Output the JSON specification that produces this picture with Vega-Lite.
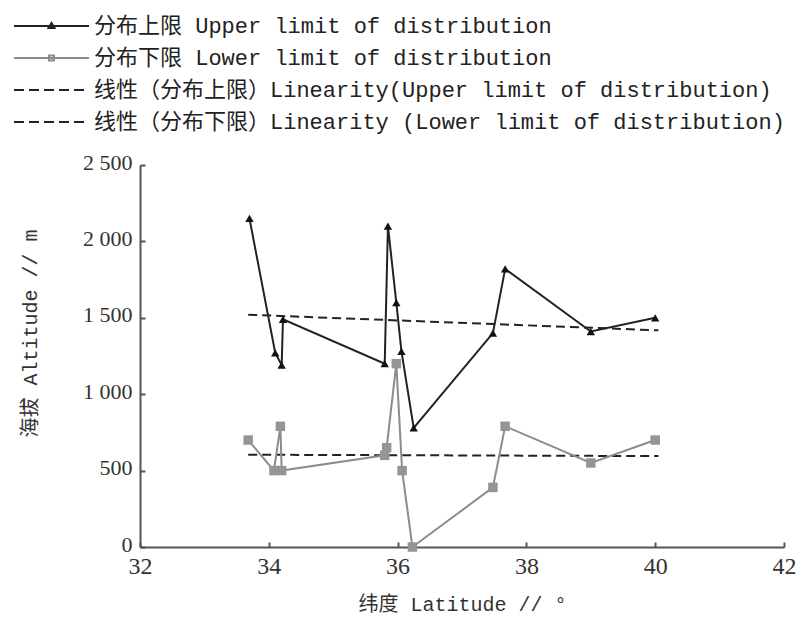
{
  "$schema": "https://vega.github.io/schema/vega-lite/v6.json",
  "width": 644,
  "height": 382,
  "autosize": {"type": "none"},
  "padding": {"left": 140, "top": 165, "right": 19, "bottom": 82},
  "background": "white",
  "config": {
    "view": {"stroke": null},
    "axis": {
      "grid": false,
      "labelFlush": false,
      "labelOverlap": false,
      "domainColor": "#555555",
      "domainWidth": 2,
      "tickColor": "#555555",
      "tickWidth": 2,
      "tickSize": -5,
      "labelFont": "Liberation Serif",
      "labelColor": "#333333",
      "titleFont": "Liberation Mono, Noto Sans CJK SC",
      "titleFontWeight": "normal",
      "titleColor": "#333333",
      "titleFontSize": 20
    }
  },
  "datasets": {
    "obs": [
      {"series": "分布上限 Upper limit of distribution", "i": 1, "lat": 33.7, "alt": 2150},
      {"series": "分布上限 Upper limit of distribution", "i": 2, "lat": 34.1, "alt": 1270},
      {"series": "分布上限 Upper limit of distribution", "i": 3, "lat": 34.2, "alt": 1190},
      {"series": "分布上限 Upper limit of distribution", "i": 4, "lat": 34.22, "alt": 1490},
      {"series": "分布上限 Upper limit of distribution", "i": 5, "lat": 35.8, "alt": 1200},
      {"series": "分布上限 Upper limit of distribution", "i": 6, "lat": 35.85, "alt": 2100},
      {"series": "分布上限 Upper limit of distribution", "i": 7, "lat": 35.98, "alt": 1600},
      {"series": "分布上限 Upper limit of distribution", "i": 8, "lat": 36.06, "alt": 1280},
      {"series": "分布上限 Upper limit of distribution", "i": 9, "lat": 36.25, "alt": 780},
      {"series": "分布上限 Upper limit of distribution", "i": 10, "lat": 37.48, "alt": 1400},
      {"series": "分布上限 Upper limit of distribution", "i": 11, "lat": 37.67, "alt": 1820},
      {"series": "分布上限 Upper limit of distribution", "i": 12, "lat": 39.0, "alt": 1410},
      {"series": "分布上限 Upper limit of distribution", "i": 13, "lat": 40.0, "alt": 1500},
      {"series": "分布下限 Lower limit of distribution", "i": 1, "lat": 33.68, "alt": 700},
      {"series": "分布下限 Lower limit of distribution", "i": 2, "lat": 34.08, "alt": 500},
      {"series": "分布下限 Lower limit of distribution", "i": 3, "lat": 34.18, "alt": 790},
      {"series": "分布下限 Lower limit of distribution", "i": 4, "lat": 34.2, "alt": 500},
      {"series": "分布下限 Lower limit of distribution", "i": 5, "lat": 35.8, "alt": 600},
      {"series": "分布下限 Lower limit of distribution", "i": 6, "lat": 35.83, "alt": 650},
      {"series": "分布下限 Lower limit of distribution", "i": 7, "lat": 35.98, "alt": 1200},
      {"series": "分布下限 Lower limit of distribution", "i": 8, "lat": 36.07, "alt": 500},
      {"series": "分布下限 Lower limit of distribution", "i": 9, "lat": 36.23, "alt": 0},
      {"series": "分布下限 Lower limit of distribution", "i": 10, "lat": 37.48, "alt": 390},
      {"series": "分布下限 Lower limit of distribution", "i": 11, "lat": 37.67, "alt": 790},
      {"series": "分布下限 Lower limit of distribution", "i": 12, "lat": 39.0, "alt": 550},
      {"series": "分布下限 Lower limit of distribution", "i": 13, "lat": 40.0, "alt": 700}
    ],
    "trend": [
      {"series": "线性（分布上限）Linearity(Upper limit of distribution)", "lat": 33.68, "alt": 1520},
      {"series": "线性（分布上限）Linearity(Upper limit of distribution)", "lat": 40.05, "alt": 1418},
      {"series": "线性（分布下限）Linearity (Lower limit of distribution)", "lat": 33.68, "alt": 604},
      {"series": "线性（分布下限）Linearity (Lower limit of distribution)", "lat": 40.05, "alt": 595}
    ]
  },
  "encoding": {
    "x": {
      "field": "lat", "type": "quantitative",
      "scale": {"domain": [32, 42], "nice": false, "zero": false},
      "axis": {"values": [32, 34, 36, 38, 40, 42], "title": "纬度 Latitude // °", "labelFontSize": 24, "labelPadding": 12, "titlePadding": 16}
    },
    "y": {
      "field": "alt", "type": "quantitative",
      "scale": {"domain": [0, 2500], "nice": false},
      "axis": {
        "values": [0, 500, 1000, 1500, 2000, 2500],
        "labelExpr": "datum.value >= 1000 ? replace(format(datum.value, ','), ',', ' ') : format(datum.value, 'd')",
        "labelFontSize": 22,
        "labelPadding": 13,
        "labelOffset": -3,
        "title": "海拔 Altitude // m",
        "titleX": -110,
        "titleY": 168,
        "titleBaseline": "middle"
      }
    }
  },
  "layer": [
    {
      "data": {"name": "trend"},
      "mark": {"type": "line", "color": "#222222", "strokeWidth": 2, "strokeDash": [9, 5]},
      "encoding": {"detail": {"field": "series"}}
    },
    {
      "data": {"name": "obs"},
      "transform": [{"filter": "indexof(datum.series, 'Lower') >= 0"}],
      "mark": {"type": "line", "color": "#8c8c8c", "strokeWidth": 2},
      "encoding": {"order": {"field": "i", "type": "quantitative"}}
    },
    {
      "data": {"name": "obs"},
      "transform": [{"filter": "indexof(datum.series, 'Lower') >= 0"}],
      "mark": {"type": "point", "shape": "square", "filled": true, "color": "#959595", "opacity": 1, "size": 90}
    },
    {
      "data": {"name": "obs"},
      "transform": [{"filter": "indexof(datum.series, 'Upper') >= 0"}],
      "mark": {"type": "line", "color": "#222222", "strokeWidth": 2},
      "encoding": {"order": {"field": "i", "type": "quantitative"}}
    },
    {
      "data": {"name": "obs"},
      "transform": [{"filter": "indexof(datum.series, 'Upper') >= 0"}],
      "mark": {"type": "point", "shape": "triangle-up", "filled": true, "color": "#111111", "opacity": 1, "size": 70}
    },
    {
      "data": {"name": "trend"},
      "mark": {"type": "point", "opacity": 0, "size": 400, "filled": false},
      "encoding": {
        "color": {
          "field": "series", "type": "nominal",
          "scale": {
            "domain": ["分布上限 Upper limit of distribution", "分布下限 Lower limit of distribution", "线性（分布上限）Linearity(Upper limit of distribution)", "线性（分布下限）Linearity (Lower limit of distribution)"],
            "range": ["#222222", "#8c8c8c", "#222222", "#222222"]
          },
          "legend": {
            "title": null,
            "orient": "none",
            "legendX": -127,
            "legendY": -150,
            "padding": 0,
            "symbolSize": 400,
            "symbolOpacity": 1,
            "symbolStrokeWidth": 2,
            "labelFont": "Liberation Mono, Noto Sans CJK SC",
            "labelFontSize": 22,
            "labelColor": "#222222",
            "labelOffset": 59,
            "labelLimit": 900,
            "rowPadding": 10
          }
        },
        "shape": {
          "field": "series", "type": "nominal",
          "scale": {
            "domain": ["分布上限 Upper limit of distribution", "分布下限 Lower limit of distribution", "线性（分布上限）Linearity(Upper limit of distribution)", "线性（分布下限）Linearity (Lower limit of distribution)"],
            "range": [
              "M-1,0H6.5M2.75,-0.3L3.05,0.2L2.45,0.2Z",
              "M-1,0H6.5M2.5,-0.25H3V0.25H2.5Z",
              "M-1,0H0M0.5,0H1.5M2,0H3M3.5,0H4.5M5,0H6",
              "M-1,0H0M0.5,0H1.5M2,0H3M3.5,0H4.5M5,0H6"
            ]
          },
          "legend": {
            "title": null,
            "orient": "none",
            "legendX": -127,
            "legendY": -150,
            "padding": 0,
            "symbolSize": 400,
            "symbolOpacity": 1,
            "symbolStrokeWidth": 2,
            "labelFont": "Liberation Mono, Noto Sans CJK SC",
            "labelFontSize": 22,
            "labelColor": "#222222",
            "labelOffset": 59,
            "labelLimit": 900,
            "rowPadding": 10
          }
        }
      }
    }
  ]
}
